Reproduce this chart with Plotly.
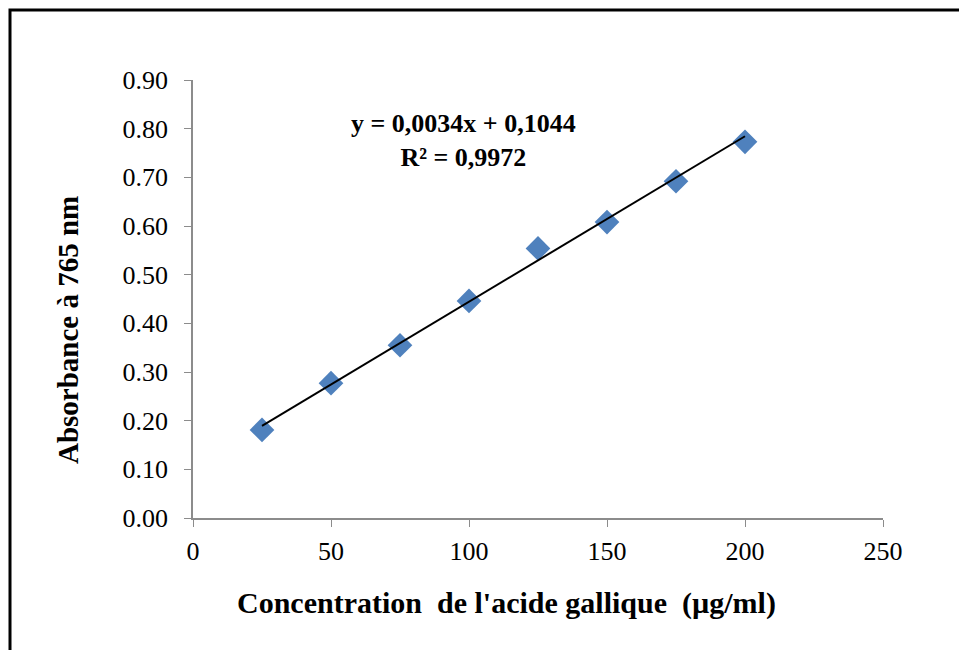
import plotly.graph_objects as go

concentration = [25, 50, 75, 100, 125, 150, 175, 200]
absorbance = [0.181, 0.277, 0.355, 0.446, 0.554, 0.608, 0.692, 0.773]
slope = 0.0034
intercept = 0.1044
r_squared = "0,9972"
x_ticks = [0, 50, 100, 150, 200, 250]
y_ticks = [0.0, 0.1, 0.2, 0.3, 0.4, 0.5, 0.6, 0.7, 0.8, 0.9]
x_title = "Concentration  de l'acide gallique  (µg/ml)"
y_title = "Absorbance à 765 nm"

fit_x = [min(concentration), max(concentration)]
fit_y = [slope * v + intercept for v in fit_x]

W, H = 959, 650
L, R, T, B = 193, 76, 80, 132
pw, ph = W - L - R, H - T - B

def px(xp):
    return (xp - L) / pw

def py(yp):
    return (H - B - yp) / ph

font_family = "Liberation Serif, Times New Roman, serif"

fig = go.Figure()
fig.add_trace(go.Scatter(
    x=concentration, y=absorbance, mode="markers",
    marker=dict(symbol="diamond", size=19, color="#4F81BD", line=dict(width=0)),
    showlegend=False, cliponaxis=False))
fig.add_trace(go.Scatter(
    x=fit_x, y=fit_y, mode="lines",
    line=dict(color="black", width=2), showlegend=False))

fig.update_layout(
    width=W, height=H,
    margin=dict(l=L, r=R, t=T, b=B),
    paper_bgcolor="white", plot_bgcolor="white",
    font=dict(family=font_family, color="black", size=26),
    xaxis=dict(range=[0, 250], tickvals=x_ticks, ticktext=[str(v) for v in x_ticks],
               showgrid=False, zeroline=False, showline=True, linecolor="#8c8c8c",
               linewidth=1.5, ticks="outside", ticklen=7, tickcolor="#8c8c8c",
               tickfont=dict(size=26), ticklabelstandoff=2),
    yaxis=dict(range=[0, 0.9], tickvals=y_ticks, ticktext=[f"{v:.2f}" for v in y_ticks],
               showgrid=False, zeroline=False, showline=True, linecolor="#8c8c8c",
               linewidth=1.5, ticks="outside", ticklen=7, tickcolor="#8c8c8c",
               tickfont=dict(size=26), ticklabelstandoff=11),
    annotations=[
        dict(x=px(463), y=py(140), xref="paper", yref="paper",
             xanchor="center", yanchor="middle",
             text=(f"<b>y = {str(slope).replace('.', ',')}x + {str(intercept).replace('.', ',')}"
                   f"<br>R² = {r_squared}</b>"),
             showarrow=False, font=dict(size=26), align="center"),
        dict(x=px(506), y=py(603), xref="paper", yref="paper",
             xanchor="center", yanchor="middle", text=f"<b>{x_title}</b>",
             showarrow=False, font=dict(size=30)),
        dict(x=px(68), y=py(330), xref="paper", yref="paper",
             xanchor="center", yanchor="middle", text=f"<b>{y_title}</b>",
             textangle=-90, showarrow=False, font=dict(size=29)),
    ],
    shapes=[dict(type="rect", xref="paper", yref="paper",
                 x0=px(10), x1=px(975), y0=py(670), y1=py(10),
                 line=dict(color="black", width=3), fillcolor="rgba(0,0,0,0)", layer="below")],
)

fig.write_html("out.html")
